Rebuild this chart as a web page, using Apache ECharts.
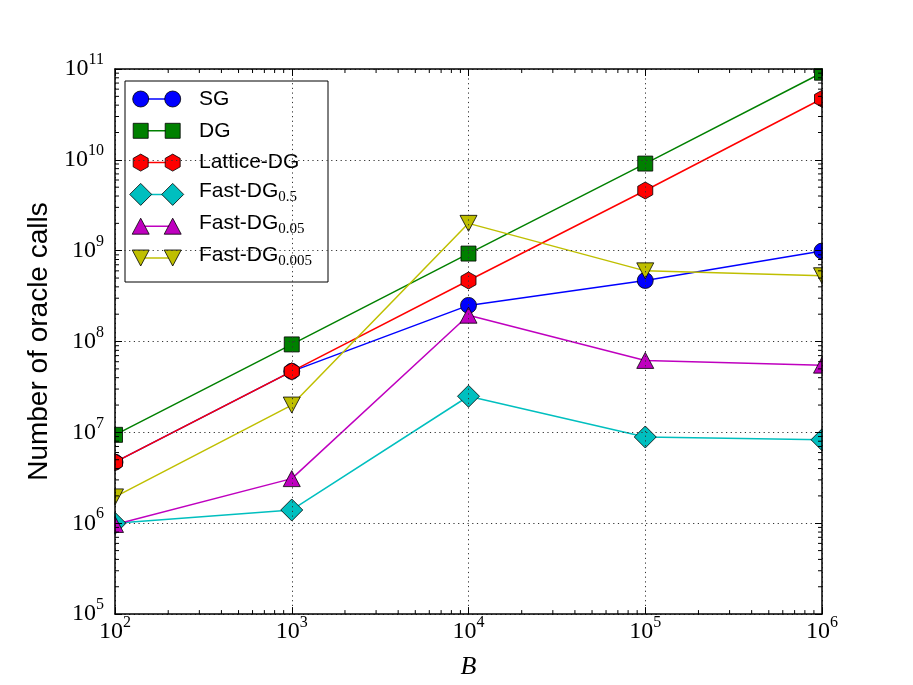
<!DOCTYPE html>
<html>
<head>
<meta charset="utf-8">
<script src="https://cdn.jsdelivr.net/npm/echarts@6/dist/echarts.min.js"></script>
<style>
html, body { margin: 0; padding: 0; background: #fff; }
#main { width: 913px; height: 685px; }
</style>
</head>
<body>
<div id="main"></div>
<script>
// data
var budgets = [1e2, 1e3, 1e4, 1e5, 1e6];
var sgCalls = [4.7e6, 4.7e7, 2.5e8, 4.7e8, 9.9e8];
var dgCalls = [9.4e6, 9.3e7, 9.3e8, 9.1e9, 9.1e10];
var latticeCalls = [4.7e6, 4.7e7, 4.7e8, 4.6e9, 4.7e10];
var fast05Calls = [1.0e6, 1.4e6, 2.5e7, 8.9e6, 8.3e6];
var fast005Calls = [0.97e6, 3.1e6, 1.95e8, 6.2e7, 5.5e7];
var fast0005Calls = [1.95e6, 2.0e7, 2.0e9, 6.0e8, 5.3e8];

var seriesNames = ['SG', 'DG', 'Lattice-DG', 'Fast-DG0.5', 'Fast-DG0.05', 'Fast-DG0.005'];
var legendBase = ['SG', 'DG', 'Lattice-DG', 'Fast-DG', 'Fast-DG', 'Fast-DG'];
var legendSub = ['', '', '', '0.5', '0.05', '0.005'];
var seriesData = [sgCalls, dgCalls, latticeCalls, fast05Calls, fast005Calls, fast0005Calls];
var colors = ['#0000ff', '#008000', '#ff0000', '#00bfbf', '#bf00bf', '#bfbf00'];
var markers = ['circle', 'square', 'hexagon', 'diamond', 'up', 'down'];

var xMin = 1e2, xMax = 1e6;
var yMin = 1e5, yMax = 1e11;

var GRID = { left: 115, right: 91, top: 69, bottom: 68 };
var W = 913, H = 685;

var hexPath = 'path://M50,0 L93.3,25 L93.3,75 L50,100 L6.7,75 L6.7,25 Z';
var symbolOf = {
    circle: { symbol: 'circle', size: 16, rotate: 0 },
    square: { symbol: 'rect', size: 15, rotate: 0 },
    hexagon: { symbol: hexPath, size: [15, 17], rotate: 0 },
    diamond: { symbol: 'diamond', size: [22, 22], rotate: 0 },
    up: { symbol: 'triangle', size: [17, 16], rotate: 0 },
    down: { symbol: 'triangle', size: [17, 16], rotate: 180 }
};

function expLabel(v) {
    var e = Math.round(Math.log(v) / Math.LN10);
    return '{b|10}{e|' + e + '}';
}
var labelRich = {
    b: { fontFamily: 'Liberation Serif', fontSize: 24, lineHeight: 24, color: '#000' },
    e: { fontFamily: 'Liberation Serif', fontSize: 16, lineHeight: 16, padding: [0, 0, 18, 0], color: '#000' }
};

var gridLine = { show: true, lineStyle: { color: '#333', width: 1, type: [1.2, 3.5] } };
var frameLine = { show: true, lineStyle: { color: '#000', width: 1.5 } };
var majorTick = { show: true, inside: true, length: 7, lineStyle: { color: '#000', width: 1 } };

// minor tick positions at 2..9 x 10^k
function minorValues(lo, hi) {
    var out = [];
    for (var k = lo; k < hi; k++) {
        for (var m = 2; m <= 9; m++) out.push(m * Math.pow(10, k));
    }
    return out;
}
var xMinor = minorValues(2, 6).map(function (v) { return [v, yMin]; });
var yMinor = minorValues(5, 11).map(function (v) { return [xMin, v]; });

function tickLine(x1, y1, x2, y2) {
    return { type: 'line', shape: { x1: x1, y1: y1, x2: x2, y2: y2 }, style: { stroke: '#000', lineWidth: 1 } };
}

var series = [];
for (var i = 0; i < seriesNames.length; i++) {
    var s = symbolOf[markers[i]];
    series.push({
        name: seriesNames[i],
        type: 'line',
        data: budgets.map(function (b, j) { return [b, seriesData[i][j]]; }),
        symbol: s.symbol,
        symbolSize: s.size,
        symbolRotate: s.rotate,
        showAllSymbol: true,
        clip: false,
        lineStyle: { color: colors[i], width: 1.5 },
        itemStyle: { color: colors[i], borderColor: '#000', borderWidth: 0.8 },
        emphasis: { disabled: true },
        animation: false,
        z: 2
    });
}
series.push({
    type: 'custom',
    silent: true,
    clip: false,
    z: 20,
    data: xMinor,
    renderItem: function (params, api) {
        var v = api.value(0);
        var b = api.coord([v, yMin]);
        var t = api.coord([v, yMax]);
        return { type: 'group', children: [tickLine(b[0], b[1], b[0], b[1] - 4), tickLine(t[0], t[1], t[0], t[1] + 4)] };
    }
});
series.push({
    type: 'custom',
    silent: true,
    clip: false,
    z: 20,
    data: yMinor,
    renderItem: function (params, api) {
        var v = api.value(1);
        var l = api.coord([xMin, v]);
        var r = api.coord([xMax, v]);
        return { type: 'group', children: [tickLine(l[0], l[1], l[0] + 4, l[1]), tickLine(r[0], r[1], r[0] - 4, r[1])] };
    }
});

// hand-made legend: marker - line - marker, like the original
var LEG = { x: 125, y: 81, w: 203, h: 201, row0: 18, rowGap: 31.8, m1: 15.7, m2: 47.7, textX: 74 };

function markerShape(kind, cx, cy, color) {
    var st = { fill: color, stroke: '#000', lineWidth: 0.8 };
    if (kind === 'circle') return { type: 'circle', shape: { cx: cx, cy: cy, r: 8 }, style: st };
    var pts;
    if (kind === 'square') pts = [[-7.5, -7.5], [7.5, -7.5], [7.5, 7.5], [-7.5, 7.5]];
    if (kind === 'hexagon') pts = [[0, -8.5], [7.5, -4.25], [7.5, 4.25], [0, 8.5], [-7.5, 4.25], [-7.5, -4.25]];
    if (kind === 'diamond') pts = [[0, -11], [11, 0], [0, 11], [-11, 0]];
    if (kind === 'up') pts = [[0, -8], [8.5, 8], [-8.5, 8]];
    if (kind === 'down') pts = [[0, 8], [8.5, -8], [-8.5, -8]];
    return { type: 'polygon', shape: { points: pts.map(function (p) { return [cx + p[0], cy + p[1]]; }) }, style: st };
}

var legendChildren = [{
    type: 'rect',
    shape: { x: 0, y: 0, width: LEG.w, height: LEG.h },
    style: { fill: '#fff', stroke: '#000', lineWidth: 1 }
}];
for (var k = 0; k < seriesNames.length; k++) {
    var cy = LEG.row0 + k * LEG.rowGap;
    legendChildren.push({ type: 'line', shape: { x1: LEG.m1, y1: cy, x2: LEG.m2, y2: cy }, style: { stroke: colors[k], lineWidth: 1.5 } });
    legendChildren.push(markerShape(markers[k], LEG.m1, cy, colors[k]));
    legendChildren.push(markerShape(markers[k], LEG.m2, cy, colors[k]));
    legendChildren.push({
        type: 'text',
        x: LEG.textX,
        y: legendSub[k] ? cy - 3 : cy,
        style: {
            text: legendSub[k] ? '{n|' + legendBase[k] + '}{s|' + legendSub[k] + '}' : '{n|' + legendBase[k] + '}',
            verticalAlign: 'middle',
            rich: {
                n: { fontFamily: 'Liberation Sans', fontSize: 21, lineHeight: 22, fill: '#000' },
                s: { fontFamily: 'Liberation Serif', fontSize: 15, lineHeight: 15, padding: [12, 0, 0, 0], fill: '#000' }
            }
        }
    });
}

// white masks outside the plot so edge markers look clipped like the original
var px0 = GRID.left, px1 = W - GRID.right, py0 = GRID.top, py1 = H - GRID.bottom;
var masks = [
    { type: 'rect', z: 5, silent: true, shape: { x: px0 - 12, y: py0 - 14, width: 11.3, height: py1 - py0 - 40 }, style: { fill: '#fff' } },
    { type: 'rect', z: 5, silent: true, shape: { x: px0 - 12, y: py0 - 14, width: px1 - px0 + 30, height: 13.3 }, style: { fill: '#fff' } },
    { type: 'rect', z: 5, silent: true, shape: { x: px1 + 0.7, y: py0 - 14, width: 16, height: py1 - py0 }, style: { fill: '#fff' } }
];

var chart = echarts.init(document.getElementById('main'), null, { renderer: 'canvas' });

var option = {
    backgroundColor: '#fff',
    animation: false,
    grid: { left: GRID.left, right: GRID.right, top: GRID.top, bottom: GRID.bottom, containLabel: false },
    xAxis: [
        {
            type: 'log', logBase: 10, min: xMin, max: xMax, splitNumber: 4, z: 10,
            name: 'B', nameLocation: 'middle', nameGap: 36,
            nameTextStyle: { fontFamily: 'Liberation Serif', fontStyle: 'italic', fontSize: 26, color: '#000' },
            axisLine: frameLine, axisTick: majorTick, splitLine: gridLine, minorTick: { show: false },
            axisLabel: { formatter: expLabel, rich: labelRich, margin: 6, showMinLabel: true, showMaxLabel: true }
        },
        {
            type: 'log', logBase: 10, min: xMin, max: xMax, splitNumber: 4, position: 'top', z: 10,
            axisLine: frameLine, axisTick: majorTick, splitLine: { show: false }, axisLabel: { show: false }
        }
    ],
    yAxis: [
        {
            type: 'log', logBase: 10, min: yMin, max: yMax, splitNumber: 6, z: 10,
            name: 'Number of oracle calls', nameLocation: 'middle', nameGap: 60,
            nameTextStyle: { fontFamily: 'Liberation Sans', fontSize: 28, color: '#000' },
            axisLine: frameLine, axisTick: majorTick, splitLine: gridLine,
            axisLabel: { formatter: expLabel, rich: labelRich, margin: 11, showMinLabel: true, showMaxLabel: true }
        },
        {
            type: 'log', logBase: 10, min: yMin, max: yMax, splitNumber: 6, position: 'right', z: 10,
            axisLine: frameLine, axisTick: majorTick, splitLine: { show: false }, axisLabel: { show: false }
        }
    ],
    graphic: masks.concat([{ type: 'group', x: LEG.x, y: LEG.y, z: 30, children: legendChildren }]),
    series: series
};

if (option && typeof option === 'object') {
    chart.setOption(option);
}
window.addEventListener('resize', chart.resize);
</script>
</body>
</html>
